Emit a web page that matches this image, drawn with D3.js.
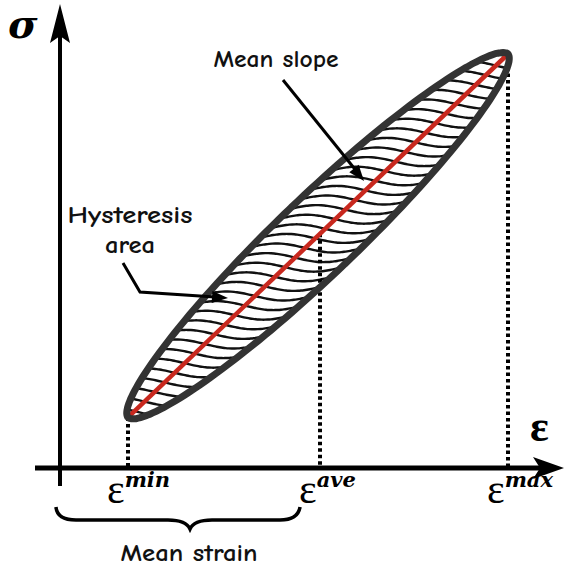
<!DOCTYPE html>
<html><head><meta charset="utf-8">
<script src="https://cdn.jsdelivr.net/npm/d3@7"></script>
<style>html,body{margin:0;padding:0;background:#fff;}svg{display:block;}</style>
</head><body>
<script>
// ---- data ----
const strainKeys = ["min", "ave", "max"];
const strainValues = [1.36, 5.2, 8.96];
const stressValues = [1.1, 9.0];          // σ at ε_min, σ at ε_max
const axisLabels = ["σ", "ε"];
const annotations = ["Mean slope", "Hysteresis", "area", "Mean strain"];

const W = 572, H = 568;
const svg = d3.select("body").append("svg").attr("width", W).attr("height", H);

const x = d3.scaleLinear().domain([0, 10]).range([60, 560]);
const y = d3.scaleLinear().domain([0, 10]).range([468, 8]);

const comic = "'Comic Sans MS','Comic Neue','Lato',sans-serif";
const serif = "'Liberation Serif','DejaVu Serif',serif";
const serif2 = "'DejaVu Serif','Liberation Serif',serif";

const p0 = [x(strainValues[0]), y(stressValues[0])];
const p1 = [x(strainValues[2]), y(stressValues[1])];
const dx = p1[0] - p0[0], dy = p1[1] - p0[1];
const L = Math.hypot(dx, dy);
const ux = dx / L, uy = dy / L;      // along
const nx = -uy, ny = ux;              // normal
const halfW = 39;

// loop outline (ellipse spanning the segment)
const loopPts = d3.range(0, 360, 2).map(deg => {
  const t = deg * Math.PI / 180;
  const a = (1 - Math.cos(t)) / 2 * L;   // 0..L
  const s = Math.sin(t);
  const b = Math.sign(s) * Math.pow(Math.abs(s), 1.1) * halfW;
  return [p0[0] + ux * a + nx * b, p0[1] + uy * a + ny * b];
});
const loopLine = d3.line().curve(d3.curveCardinalClosed);

const defs = svg.append("defs");
defs.append("clipPath").attr("id", "loopClip")
  .append("path").attr("d", loopLine(loopPts));

// hatching (wavy lines)
const hatchG = svg.append("g").attr("clip-path", "url(#loopClip)");
const slope = dy / dx;
for (let yy = p1[1] + 2; yy < p0[1]; yy += 9.6) {
  const xc = p0[0] + (yy - p0[1]) / slope;
  const pts = d3.range(xc - 120, xc + 121, 3).map(xx =>
    [xx, yy + 4.5 * Math.sin(2 * Math.PI * (xx - xc) / 115)]);
  hatchG.append("path").attr("d", d3.line().curve(d3.curveBasis)(pts))
    .attr("fill", "none").attr("stroke", "#111").attr("stroke-width", 2.4);
}

// dotted guides
const guideTop = [y(stressValues[0]), null, y(stressValues[1])];
guideTop[1] = p0[1] + (x(strainValues[1]) - p0[0]) * slope;
strainValues.forEach((v, i) => {
  const gx = Math.round(x(v));
  svg.append("line").attr("x1", gx).attr("x2", gx)
    .attr("y1", guideTop[i]).attr("y2", y(0))
    .attr("stroke", "#000").attr("stroke-width", 4).attr("stroke-dasharray", "3.5,3");
});

// mean slope line
svg.append("line").attr("x1", p0[0]).attr("y1", p0[1]).attr("x2", p1[0]).attr("y2", p1[1])
  .attr("stroke", "#c8281e").attr("stroke-width", 4.5);

// outline
svg.append("path").attr("d", loopLine(loopPts)).attr("fill", "none")
  .attr("stroke", "#333").attr("stroke-width", 7);

// axes
svg.append("line").attr("x1", 35).attr("x2", 540).attr("y1", y(0)).attr("y2", y(0))
  .attr("stroke", "#000").attr("stroke-width", 5);
svg.append("path").attr("d", `M564,${y(0)} L533,${y(0) - 11} L540,${y(0)} L533,${y(0) + 11} Z`).attr("fill", "#000");
svg.append("line").attr("x1", x(0)).attr("x2", x(0)).attr("y1", 486).attr("y2", 35)
  .attr("stroke", "#000").attr("stroke-width", 4);
svg.append("path").attr("d", `M${x(0)},4 L${x(0) - 10},43 L${x(0)},36 L${x(0) + 10},43 Z`).attr("fill", "#000");

svg.append("text").attr("x", 8).attr("y", 38).text(axisLabels[0])
  .attr("font-family", serif2).attr("font-weight", "bold").attr("font-style", "italic").attr("font-size", 40);
svg.append("text").attr("x", 530).attr("y", 441).text(axisLabels[1])
  .attr("font-family", serif).attr("font-weight", "bold").attr("font-size", 44);

// tick labels
strainKeys.forEach((k, i) => {
  const t = svg.append("text").attr("x", x(strainValues[i]) - 21).attr("y", 503)
    .attr("font-family", serif).attr("font-size", 42);
  t.append("tspan").text("ε");
  t.append("tspan").text(k).attr("dy", -16).attr("font-size", 21).attr("font-family", serif2)
    .attr("font-weight", "bold").attr("font-style", "italic");
});

// annotations
function arrowHead(tip, from, len = 16, w = 6) {
  const ddx = tip[0] - from[0], ddy = tip[1] - from[1];
  const d = Math.hypot(ddx, ddy), ax = ddx / d, ay = ddy / d;
  const bx = tip[0] - ax * len, by = tip[1] - ay * len;
  svg.append("path").attr("d",
    `M${tip[0]},${tip[1]} L${bx - ay * w},${by + ax * w} L${bx + ay * w},${by - ax * w} Z`).attr("fill", "#000");
}
function label(txt, cx, by, len, size) {
  svg.append("text").attr("x", cx - len / 2).attr("y", by).text(txt)
    .attr("font-family", comic).attr("font-size", size).attr("font-weight", "bold")
    .attr("textLength", len).attr("lengthAdjust", "spacingAndGlyphs").attr("fill", "#111");
}
label(annotations[0], 276, 67, 125, 24);
svg.append("line").attr("x1", 283).attr("y1", 80).attr("x2", 358).attr("y2", 173)
  .attr("stroke", "#000").attr("stroke-width", 3);
arrowHead([364, 181], [283, 80]);

label(annotations[1], 130, 223, 125, 24);
label(annotations[2], 130, 253, 50, 24);
svg.append("path").attr("d", "M123,263 L140,292 L215,297").attr("fill", "none")
  .attr("stroke", "#000").attr("stroke-width", 3);
arrowHead([228, 298], [140, 292]);

// brace
svg.append("path").attr("d",
  "M56,507 Q57,520 76,520 L168,520 Q186,520 190,529 Q194,520 212,520 L280,520 Q298,520 300,507")
  .attr("fill", "none").attr("stroke", "#000").attr("stroke-width", 3.5);
label(annotations[3], 189, 561, 137, 24);
</script>
</body></html>
